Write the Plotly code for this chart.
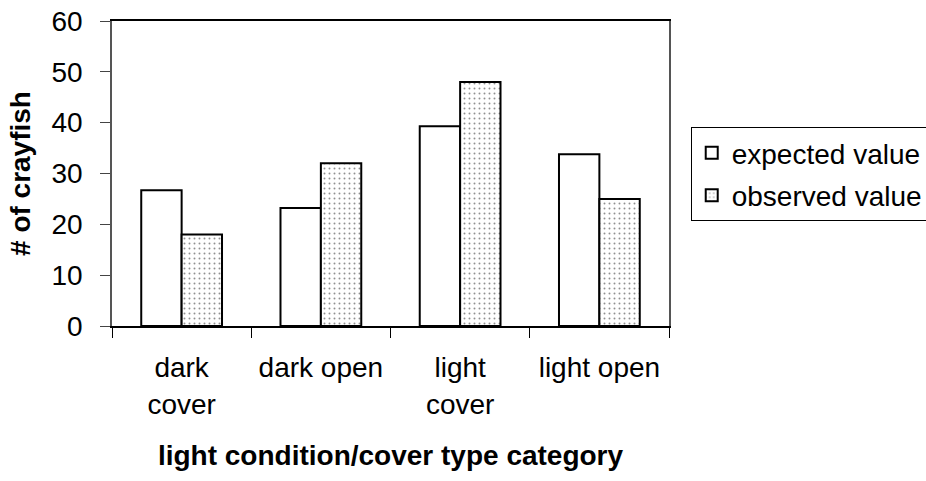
import plotly.graph_objects as go

categories = ["dark<br>cover", "dark open", "light<br>cover", "light open"]
expected_value = [26.7, 23.2, 39.3, 33.8]
observed_value = [18, 32, 48, 25]
y_ticks = [0, 10, 20, 30, 40, 50, 60]

FONT = "Liberation Sans, Arial, sans-serif"
FS = 28

fig = go.Figure()
fig.add_trace(go.Bar(
    x=categories, y=expected_value, name="expected value",
    legendgroup="a",
    marker=dict(color="white", line=dict(color="black", width=2)),
))
fig.add_trace(go.Bar(
    x=categories, y=observed_value, name="observed value",
    legendgroup="b",
    marker=dict(color="white", line=dict(color="black", width=2),
                pattern=dict(shape=".", fgcolor="#222222", bgcolor="white",
                             size=5, solidity=0.12)),
))

fig.update_layout(
    width=926, height=481,
    margin=dict(l=112, r=257, t=21, b=155, autoexpand=False),
    plot_bgcolor="white", paper_bgcolor="white",
    font=dict(family=FONT, size=FS, color="black"),
    barmode="group", bargap=0.42, bargroupgap=0,
    legend=dict(
        x=1.039, y=0.652, xanchor="left", yanchor="top",
        bordercolor="black", borderwidth=1, bgcolor="white",
        font=dict(size=FS), traceorder="grouped", tracegroupgap=3,
        itemwidth=30,
    ),
    xaxis=dict(
        showline=True, linecolor="black", linewidth=1.5, mirror=True,
        ticks="outside", tickson="boundaries", ticklen=10,
        tickcolor="black", tickwidth=1, ticklabelstandoff=16,
        title=dict(text="<b>light condition/cover type category</b>",
                   font=dict(size=FS), standoff=27),
        tickfont=dict(size=FS),
    ),
    yaxis=dict(
        range=[0, 60], tickvals=y_ticks,
        showline=True, linecolor="#555555", linewidth=1.5, mirror=True,
        ticks="outside", ticklen=10, tickcolor="#444444", tickwidth=1,
        ticklabelstandoff=12,
        showgrid=False, zeroline=False,
        title=dict(text="<b># of crayfish</b>", font=dict(size=FS), standoff=13),
        tickfont=dict(size=FS),
    ),
)

fig.write_html("out.html")
